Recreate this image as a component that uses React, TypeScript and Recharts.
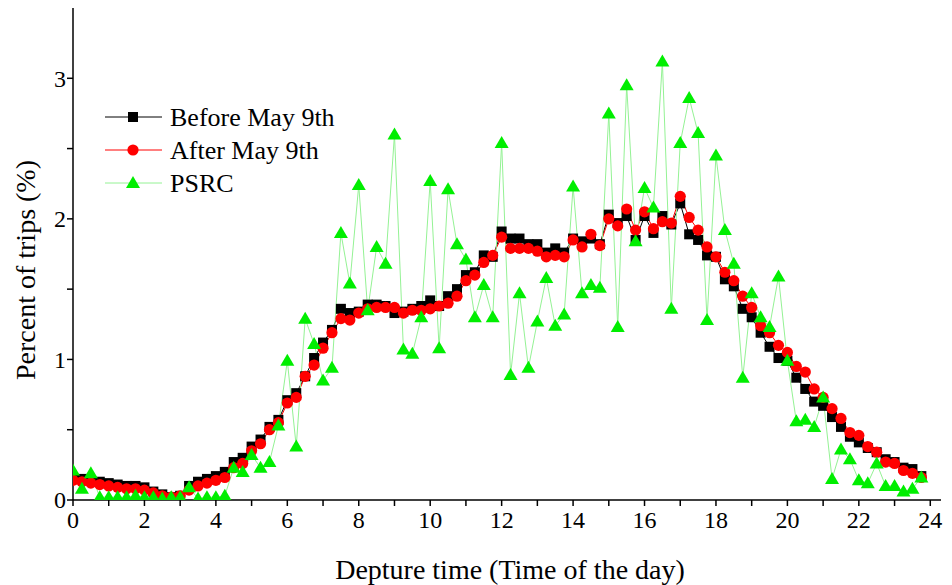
import React from "react";
import { LineChart, Line, XAxis, YAxis, Legend } from "recharts";

const times: number[] = [
  0, 0.25, 0.5, 0.75, 1, 1.25, 1.5, 1.75, 2, 2.25, 2.5, 2.75, 3, 3.25, 3.5, 3.75,
  4, 4.25, 4.5, 4.75, 5, 5.25, 5.5, 5.75, 6, 6.25, 6.5, 6.75, 7, 7.25, 7.5, 7.75,
  8, 8.25, 8.5, 8.75, 9, 9.25, 9.5, 9.75, 10, 10.25, 10.5, 10.75, 11, 11.25, 11.5, 11.75,
  12, 12.25, 12.5, 12.75, 13, 13.25, 13.5, 13.75, 14, 14.25, 14.5, 14.75, 15, 15.25, 15.5, 15.75,
  16, 16.25, 16.5, 16.75, 17, 17.25, 17.5, 17.75, 18, 18.25, 18.5, 18.75, 19, 19.25, 19.5, 19.75,
  20, 20.25, 20.5, 20.75, 21, 21.25, 21.5, 21.75, 22, 22.25, 22.5, 22.75, 23, 23.25, 23.5, 23.75,
];

const beforeMay9: number[] = [
  0.16, 0.15, 0.14, 0.13, 0.12, 0.11, 0.10, 0.10, 0.09, 0.06, 0.04, 0.02, 0.03, 0.10, 0.13, 0.15,
  0.17, 0.20, 0.27, 0.30, 0.38, 0.43, 0.52, 0.57, 0.71, 0.76, 0.88, 1.01, 1.12, 1.21, 1.36, 1.33,
  1.34, 1.39, 1.39, 1.38, 1.33, 1.34, 1.36, 1.38, 1.42, 1.38, 1.45, 1.50, 1.60, 1.62, 1.74, 1.73,
  1.91, 1.86, 1.86, 1.82, 1.82, 1.76, 1.79, 1.76, 1.86, 1.84, 1.86, 1.82, 2.03, 1.97, 2.02, 1.85,
  2.02, 1.90, 2.02, 1.96, 2.11, 1.89, 1.85, 1.74, 1.73, 1.57, 1.52, 1.36, 1.30, 1.19, 1.09, 1.01,
  0.99, 0.87, 0.79, 0.70, 0.67, 0.59, 0.52, 0.45, 0.41, 0.37, 0.34, 0.29, 0.27, 0.23, 0.22, 0.17,
];

const afterMay9: number[] = [
  0.14, 0.13, 0.12, 0.11, 0.10, 0.09, 0.08, 0.08, 0.07, 0.05, 0.03, 0.02, 0.03, 0.07, 0.10, 0.12,
  0.14, 0.16, 0.23, 0.26, 0.35, 0.40, 0.50, 0.55, 0.69, 0.73, 0.88, 0.96, 1.08, 1.19, 1.29, 1.28,
  1.33, 1.36, 1.37, 1.37, 1.37, 1.33, 1.35, 1.35, 1.36, 1.38, 1.40, 1.45, 1.56, 1.60, 1.69, 1.74,
  1.87, 1.79, 1.79, 1.79, 1.77, 1.73, 1.74, 1.73, 1.85, 1.80, 1.89, 1.81, 2.00, 1.95, 2.07, 1.92,
  2.05, 1.93, 1.98, 1.97, 2.16, 2.01, 1.92, 1.80, 1.73, 1.62, 1.56, 1.45, 1.37, 1.24, 1.19, 1.10,
  1.05, 0.95, 0.91, 0.79, 0.73, 0.65, 0.58, 0.48, 0.46, 0.38, 0.34, 0.27, 0.26, 0.21, 0.19, 0.16,
];

const psrc: number[] = [
  0.21, 0.08, 0.19, 0.02, 0.02, 0.02, 0.02, 0.03, 0.02, 0.02, 0.01, 0.02, 0.02, 0.09, 0.01, 0.02,
  0.02, 0.03, 0.23, 0.20, 0.32, 0.23, 0.27, 0.53, 0.99, 0.38, 1.29, 1.11, 0.85, 0.94, 1.90, 1.54,
  2.24, 1.35, 1.80, 1.68, 2.60, 1.07, 1.04, 1.30, 2.27, 1.08, 2.21, 1.82, 1.71, 1.30, 1.53, 1.30,
  2.54, 0.89, 1.47, 0.94, 1.27, 1.58, 1.24, 1.32, 2.23, 1.47, 1.53, 1.51, 2.75, 1.23, 2.95, 1.84,
  2.22, 2.08, 3.12, 1.36, 2.54, 2.86, 2.61, 1.28, 2.45, 1.92, 1.68, 0.87, 1.47, 1.30, 1.23, 1.59,
  0.99, 0.56, 0.57, 0.52, 0.73, 0.15, 0.36, 0.29, 0.14, 0.12, 0.26, 0.10, 0.10, 0.06, 0.08, 0.16,
];

const xTicks: number[] = [0, 1, 2, 3, 4, 5, 6, 7, 8, 9, 10, 11, 12, 13, 14, 15, 16, 17, 18, 19, 20, 21, 22, 23, 24];
const yTicks: number[] = [0, 0.5, 1, 1.5, 2, 2.5, 3];

const seriesNames = ["Before May 9th", "After May 9th", "PSRC"];

const data = times.map((t, i) => ({
  t,
  before: beforeMay9[i],
  after: afterMay9[i],
  psrc: psrc[i],
}));

const FONT = '"Liberation Serif", "Times New Roman", serif';
const GREEN = "#00ee00";
const GREEN_LINE = "#94f294";

const SquareDot = (props: any) => {
  const { cx, cy } = props;
  if (cx == null || cy == null) return <g />;
  return <rect x={cx - 5} y={cy - 5} width={10} height={10} fill="#000" />;
};
const CircleDot = (props: any) => {
  const { cx, cy } = props;
  if (cx == null || cy == null) return <g />;
  return <circle cx={cx} cy={cy} r={5.6} fill="#ff0000" />;
};
const TriDot = (props: any) => {
  const { cx, cy } = props;
  if (cx == null || cy == null) return <g />;
  return <path d={`M${cx},${cy - 7} L${cx + 7},${cy + 5} L${cx - 7},${cy + 5} Z`} fill={GREEN} />;
};

const XTick = (props: any) => {
  const { x, y, payload } = props;
  if (payload.value % 2 !== 0) return <g />;
  return (
    <text x={x} y={y} dy="0.8em" textAnchor="middle" fontFamily={FONT} fontSize={24} fill="#000">
      {payload.value}
    </text>
  );
};
const YTick = (props: any) => {
  const { x, y, payload } = props;
  if (payload.value % 1 !== 0) return <g />;
  return (
    <text x={x} y={y} dy="0.35em" textAnchor="end" fontFamily={FONT} fontSize={24} fill="#000">
      {payload.value}
    </text>
  );
};

const LegendContent = () => {
  const rows = [0, 1, 2];
  return (
    <svg width={260} height={100} style={{ display: "block", overflow: "visible" }}>
      {rows.map((r) => {
        const cy = 17 + r * 33;
        const color = r === 0 ? "#000" : r === 1 ? "#ff0000" : GREEN_LINE;
        return (
          <g key={r}>
            <line x1={5} x2={62} y1={cy} y2={cy} stroke={color} strokeWidth={1} />
            {r === 0 && <rect x={28} y={cy - 5} width={10} height={10} fill="#000" />}
            {r === 1 && <circle cx={33} cy={cy} r={5.6} fill="#ff0000" />}
            {r === 2 && <path d={`M33,${cy - 7} L40,${cy + 5} L26,${cy + 5} Z`} fill={GREEN} />}
            <text x={70} y={cy} dy="0.35em" fontFamily={FONT} fontSize={26} fill="#000">
              {seriesNames[r]}
            </text>
          </g>
        );
      })}
    </svg>
  );
};

const XTitle = () => (
  <text x={502} y={571} textAnchor="middle" fontFamily={FONT} fontSize={28} fill="#000">
    Depture time (Time of the day)
  </text>
);
const YTitle = () => (
  <text
    x={0}
    y={0}
    transform="translate(17,262) rotate(-90)"
    textAnchor="middle"
    dy="0.35em"
    fontFamily={FONT}
    fontSize={28}
    fill="#000"
  >
    Percent of trips (%)
  </text>
);

export default function App() {
  return (
    <LineChart
      width={944}
      height={577}
      data={data}
      margin={{ top: 0, right: 11, left: 0, bottom: 0 }}
    >
      <XAxis
        dataKey="t"
        type="number"
        domain={[0, 24.3]}
        ticks={xTicks}
        interval={0}
        tick={<XTick />}
        tickSize={6}
        tickMargin={3}
        height={85}
        axisLine={{ stroke: "#000", strokeWidth: 1.5 }}
        tickLine={{ stroke: "#000", strokeWidth: 1.5 }}
        allowDataOverflow
        label={{ content: () => <XTitle /> }}
      />
      <YAxis
        type="number"
        domain={[0, 3.5]}
        ticks={yTicks}
        interval={0}
        tick={<YTick />}
        tickSize={6}
        tickMargin={1}
        width={65}
        axisLine={{ stroke: "#000", strokeWidth: 1.5 }}
        tickLine={{ stroke: "#000", strokeWidth: 1.5 }}
        allowDataOverflow
        label={{ content: () => <YTitle /> }}
      />
      <Legend
        layout="horizontal"
        verticalAlign="middle"
        align="center"
        content={() => <LegendContent />}
        wrapperStyle={{ position: "absolute", left: 92, top: 92, width: 260, height: 100 }}
      />
      <Line
        dataKey="before"
        name={seriesNames[0]}
        stroke="#000"
        strokeWidth={1}
        dot={SquareDot}
        activeDot={false}
        isAnimationActive={false}
      />
      <Line
        dataKey="after"
        name={seriesNames[1]}
        stroke="#ff0000"
        strokeWidth={1}
        dot={CircleDot}
        activeDot={false}
        isAnimationActive={false}
      />
      <Line
        dataKey="psrc"
        name={seriesNames[2]}
        stroke={GREEN_LINE}
        strokeWidth={1}
        dot={TriDot}
        activeDot={false}
        isAnimationActive={false}
      />
    </LineChart>
  );
}
